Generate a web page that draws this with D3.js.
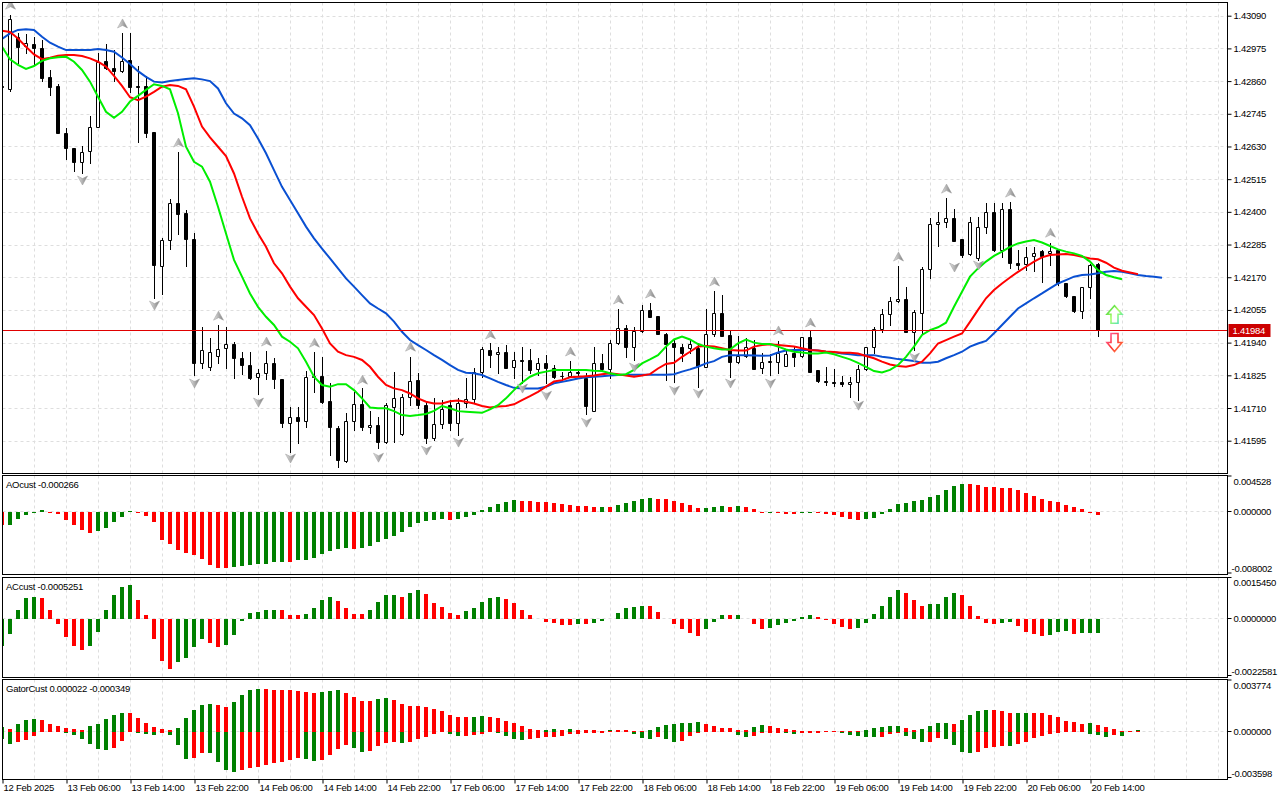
<!DOCTYPE html>
<html>
<head>
<meta charset="utf-8">
<script src="https://cdn.jsdelivr.net/npm/d3@7"></script>
<style>
body { margin: 0; background: #fff; }
svg { display: block; font-family: "Liberation Sans", Arial, sans-serif; font-size: 9.5px; letter-spacing: -0.25px; }
</style>
</head>
<body>
<svg id="chart" width="1280" height="800"></svg>
<script>
// hourly bars, index -1 is the half hidden one at the left edge
var firstBar = -1

var opens = [1.42842,1.42831,1.43014,1.42983,1.42989,1.42975,1.42873,1.42842,1.42676,1.42623,
  1.42577,1.42614,1.42697,1.42930,1.42905,1.42894,1.42933,1.42842,1.42842,1.42680,
  1.42210,1.42301,1.42432,1.42395,1.42303,1.41870,1.41853,1.41893,1.41920,1.41934,
  1.41885,1.41861,1.41818,1.41832,1.41867,1.41812,1.41659,1.41679,1.41665,1.41818,
  1.41822,1.41734,1.41638,1.41524,1.41664,1.41723,1.41642,1.41650,1.41591,1.41714,
  1.41617,1.41747,1.41808,1.41720,1.41605,1.41653,1.41720,1.41659,1.41728,1.41740,
  1.41835,1.41914,1.41900,1.41908,1.41853,1.41879,1.41879,1.41846,1.41867,1.41849,
  1.41823,1.41822,1.41835,1.41816,1.41700,1.41870,1.41846,1.41937,1.41990,1.41923,
  1.41982,1.42054,1.42033,1.41972,1.41937,1.41925,1.41920,1.41922,1.41855,1.41972,
  1.42043,1.41967,1.41873,1.41893,1.41922,1.41849,1.41873,1.41873,1.41858,1.41904,
  1.41893,1.41960,1.41843,1.41806,1.41801,1.41801,1.41793,1.41800,1.41846,1.41923,
  1.41987,1.42039,1.42087,1.42092,1.41978,1.42045,1.42198,1.42356,1.42363,1.42377,
  1.42303,1.42250,1.42236,1.42345,1.42398,1.42266,1.42409,1.42219,1.42215,1.42244,
  1.42262,1.42254,1.42266,1.42148,1.42104,1.42052,1.42134,1.42215]
var highs = [1.42845,1.43092,1.43028,1.43024,1.43014,1.43004,1.42899,1.42849,1.42696,1.42623,
  1.42632,1.42738,1.42958,1.42990,1.42969,1.43030,1.43030,1.42913,1.42878,1.42680,
  1.42307,1.42444,1.42611,1.42406,1.42324,1.41994,1.41955,1.42002,1.41994,1.41943,
  1.41908,1.41908,1.41847,1.41910,1.41885,1.41812,1.41712,1.41712,1.41841,1.41908,
  1.41890,1.41797,1.41646,1.41691,1.41767,1.41779,1.41700,1.41679,1.41726,1.41837,
  1.41761,1.41890,1.41832,1.41732,1.41744,1.41738,1.41738,1.41744,1.41814,1.41849,
  1.41925,1.41937,1.41925,1.41931,1.41908,1.41925,1.41916,1.41885,1.41896,1.41861,
  1.41837,1.41875,1.41847,1.41832,1.41925,1.41900,1.41949,1.42060,1.42002,1.41996,
  1.42072,1.42078,1.42034,1.41975,1.41949,1.41935,1.41949,1.41937,1.42058,1.42122,
  1.42107,1.41984,1.41963,1.41955,1.41949,1.41902,1.41900,1.41946,1.41911,1.41925,
  1.41960,1.41980,1.41843,1.41854,1.41847,1.41822,1.41820,1.41861,1.41925,1.41996,
  1.42057,1.42101,1.42209,1.42136,1.42054,1.42205,1.42379,1.42398,1.42447,1.42409,
  1.42303,1.42383,1.42383,1.42430,1.42430,1.42430,1.42435,1.42266,1.42275,1.42275,
  1.42266,1.42291,1.42268,1.42150,1.42104,1.42136,1.42216,1.42219]
var lows = [1.42835,1.42826,1.42922,1.42958,1.42915,1.42861,1.42812,1.42676,1.42587,1.42544,
  1.42537,1.42573,1.42697,1.42901,1.42860,1.42892,1.42820,1.42647,1.42664,1.42098,
  1.42111,1.42268,1.42321,1.42210,1.41826,1.41851,1.41843,1.41867,1.41851,1.41814,
  1.41829,1.41812,1.41761,1.41812,1.41781,1.41644,1.41556,1.41586,1.41644,1.41767,
  1.41726,1.41544,1.41503,1.41521,1.41632,1.41632,1.41623,1.41568,1.41586,1.41591,
  1.41615,1.41720,1.41709,1.41586,1.41597,1.41638,1.41632,1.41615,1.41714,1.41732,
  1.41820,1.41855,1.41832,1.41849,1.41814,1.41797,1.41832,1.41826,1.41797,1.41814,
  1.41808,1.41820,1.41826,1.41688,1.41700,1.41843,1.41814,1.41934,1.41888,1.41879,
  1.41978,1.42029,1.41970,1.41808,1.41802,1.41876,1.41902,1.41785,1.41855,1.41963,
  1.41963,1.41820,1.41870,1.41890,1.41846,1.41834,1.41826,1.41832,1.41858,1.41858,
  1.41890,1.41837,1.41802,1.41791,1.41787,1.41787,1.41749,1.41738,1.41843,1.41902,
  1.41978,1.42002,1.42084,1.41978,1.41914,1.41972,1.42166,1.42280,1.42345,1.42298,
  1.42240,1.42248,1.42230,1.42326,1.42262,1.42242,1.42201,1.42198,1.42195,1.42193,
  1.42154,1.42213,1.42142,1.42099,1.42048,1.42025,1.42098,1.41963]
var closes = [1.42839,1.43078,1.42979,1.42993,1.42975,1.42872,1.42840,1.42676,1.42623,1.42577,
  1.42611,1.42697,1.42928,1.42905,1.42894,1.42930,1.42838,1.42838,1.42678,1.42213,
  1.42301,1.42430,1.42391,1.42303,1.41870,1.41914,1.41907,1.41917,1.41934,1.41885,
  1.41861,1.41816,1.41832,1.41867,1.41811,1.41656,1.41679,1.41665,1.41820,1.41822,
  1.41732,1.41642,1.41527,1.41664,1.41723,1.41642,1.41650,1.41589,1.41720,1.41746,
  1.41747,1.41805,1.41720,1.41603,1.41653,1.41705,1.41658,1.41728,1.41740,1.41835,
  1.41916,1.41896,1.41908,1.41851,1.41879,1.41877,1.41843,1.41867,1.41849,1.41820,
  1.41821,1.41835,1.41832,1.41718,1.41870,1.41846,1.41937,1.41990,1.41923,1.41982,
  1.42054,1.42031,1.41972,1.41934,1.41923,1.41904,1.41935,1.41857,1.41972,1.42043,
  1.41964,1.41873,1.41893,1.41923,1.41847,1.41873,1.41875,1.41902,1.41900,1.41890,
  1.41960,1.41837,1.41806,1.41801,1.41797,1.41793,1.41800,1.41846,1.41923,1.41987,
  1.42039,1.42087,1.42093,1.41978,1.42048,1.42198,1.42356,1.42363,1.42377,1.42298,
  1.42248,1.42363,1.42345,1.42398,1.42266,1.42409,1.42221,1.42214,1.42242,1.42257,
  1.42245,1.42263,1.42148,1.42105,1.42052,1.42134,1.42213,1.41984]

// alligator lines as drawn (already shifted forward), also from bar -1
var jaw = [1.43008,1.43028,1.43040,1.43042,1.43040,1.43016,1.42995,1.42981,1.42969,1.42969,
  1.42969,1.42969,1.42973,1.42969,1.42963,1.42943,1.42920,1.42895,1.42875,1.42858,
  1.42855,1.42860,1.42864,1.42867,1.42870,1.42866,1.42860,1.42834,1.42782,1.42746,
  1.42729,1.42705,1.42658,1.42606,1.42547,1.42488,1.42442,1.42395,1.42348,1.42307,
  1.42271,1.42236,1.42201,1.42166,1.42137,1.42107,1.42078,1.42060,1.42043,1.42014,
  1.41978,1.41949,1.41931,1.41914,1.41896,1.41879,1.41861,1.41844,1.41834,1.41832,
  1.41826,1.41814,1.41802,1.41791,1.41781,1.41779,1.41779,1.41779,1.41785,1.41797,
  1.41802,1.41808,1.41814,1.41818,1.41820,1.41822,1.41824,1.41826,1.41827,1.41827,
  1.41827,1.41827,1.41827,1.41827,1.41829,1.41838,1.41846,1.41855,1.41867,1.41875,
  1.41890,1.41896,1.41896,1.41896,1.41895,1.41894,1.41895,1.41905,1.41912,1.41914,
  1.41914,1.41914,1.41912,1.41908,1.41906,1.41902,1.41899,1.41896,1.41896,1.41896,
  1.41890,1.41887,1.41882,1.41879,1.41875,1.41869,1.41869,1.41873,1.41885,1.41896,
  1.41908,1.41926,1.41937,1.41946,1.41973,1.42002,1.42031,1.42060,1.42078,1.42096,
  1.42113,1.42131,1.42148,1.42160,1.42172,1.42178,1.42180,1.42184,1.42189,1.42192,
  1.42189,1.42184,1.42178,1.42174,1.42172,1.42168]
var teeth = [1.43037,1.43033,1.43010,1.42981,1.42954,1.42937,1.42942,1.42949,1.42952,1.42952,
  1.42948,1.42940,1.42928,1.42911,1.42878,1.42843,1.42803,1.42793,1.42805,1.42822,
  1.42840,1.42846,1.42843,1.42831,1.42770,1.42700,1.42662,1.42629,1.42596,1.42535,
  1.42453,1.42377,1.42324,1.42277,1.42219,1.42184,1.42137,1.42096,1.42066,1.42037,
  1.41990,1.41937,1.41908,1.41896,1.41890,1.41879,1.41855,1.41820,1.41791,1.41779,
  1.41773,1.41761,1.41744,1.41732,1.41726,1.41726,1.41734,1.41736,1.41732,1.41726,
  1.41717,1.41712,1.41715,1.41717,1.41723,1.41738,1.41752,1.41767,1.41785,1.41803,
  1.41808,1.41818,1.41820,1.41822,1.41824,1.41829,1.41832,1.41829,1.41824,1.41820,
  1.41824,1.41829,1.41849,1.41865,1.41869,1.41890,1.41908,1.41926,1.41928,1.41926,
  1.41920,1.41914,1.41912,1.41912,1.41926,1.41932,1.41934,1.41932,1.41929,1.41926,
  1.41920,1.41914,1.41912,1.41909,1.41907,1.41904,1.41904,1.41902,1.41893,1.41885,
  1.41873,1.41863,1.41858,1.41855,1.41861,1.41873,1.41902,1.41937,1.41949,1.41961,
  1.41972,1.42013,1.42055,1.42096,1.42125,1.42148,1.42169,1.42189,1.42207,1.42225,
  1.42240,1.42248,1.42250,1.42252,1.42248,1.42242,1.42236,1.42233,1.42221,1.42204,
  1.42193,1.42187,1.42181]
var lips = [1.42981,1.42937,1.42917,1.42903,1.42913,1.42931,1.42940,1.42944,1.42946,1.42928,
  1.42899,1.42858,1.42805,1.42752,1.42731,1.42752,1.42788,1.42808,1.42829,1.42849,
  1.42843,1.42831,1.42747,1.42629,1.42576,1.42559,1.42506,1.42418,1.42324,1.42231,
  1.42172,1.42113,1.42066,1.42031,1.42002,1.41961,1.41943,1.41920,1.41873,1.41820,
  1.41791,1.41785,1.41794,1.41794,1.41773,1.41744,1.41712,1.41709,1.41709,1.41699,
  1.41685,1.41682,1.41685,1.41689,1.41700,1.41717,1.41709,1.41699,1.41697,1.41695,
  1.41693,1.41705,1.41720,1.41744,1.41773,1.41799,1.41820,1.41832,1.41838,1.41844,
  1.41844,1.41844,1.41844,1.41844,1.41841,1.41840,1.41832,1.41826,1.41829,1.41844,
  1.41867,1.41881,1.41896,1.41926,1.41951,1.41961,1.41951,1.41935,1.41926,1.41920,
  1.41916,1.41916,1.41937,1.41951,1.41940,1.41935,1.41935,1.41926,1.41916,1.41908,
  1.41905,1.41902,1.41902,1.41905,1.41899,1.41890,1.41881,1.41869,1.41855,1.41840,
  1.41835,1.41844,1.41861,1.41890,1.41926,1.41967,1.41984,1.41994,1.42010,1.42066,
  1.42119,1.42172,1.42201,1.42225,1.42245,1.42260,1.42277,1.42289,1.42296,1.42301,
  1.42292,1.42280,1.42268,1.42260,1.42254,1.42245,1.42225,1.42195,1.42178,1.42170,
  1.42163]

// fractals: [bar, price where the arrow sits]
var fractalUp = [[0,1.43127],[14,1.43061],[21,1.42642],[26,1.42033],[32,1.41942],[38,1.41938],
  [44,1.41808],[50,1.41924],[60,1.41967],[70,1.41907],[76,1.42090],[80,1.42111],[88,1.42153],
  [96,1.41981],[100,1.42009],[111,1.42241],[117,1.42480],[125,1.42466],[130,1.42325]]
var fractalDown = [[9,1.42512],[18,1.42072],[23,1.41798],[31,1.41731],[35,1.41534],[46,1.41537],
  [52,1.41562],[56,1.41590],[64,1.41780],[67,1.41755],[72,1.41660],[78,1.41854],[83,1.41773],
  [86,1.41762],[90,1.41798],[95,1.41798],[106,1.41720],[113,1.41889],[118,1.42206],[121,1.42213]]
// signal arrows at the right: [bar, base price]
var signalBuy = [138, 1.42008]
var signalSell = [138, 1.41972]
var lastPrice = 1.41984

var aoValues = [-0.001577,-0.001535,-0.000853,-0.000341,-0.000085,0.000171,-0.000085,-0.000213,-0.000895,-0.001535,
  -0.002174,-0.002558,-0.002387,-0.001918,-0.001236,-0.000512,0.000085,-0.000043,-0.000384,-0.001236,
  -0.003453,-0.004007,-0.004732,-0.005073,-0.005414,-0.005840,-0.006650,-0.006991,-0.007034,-0.006863,
  -0.006693,-0.006650,-0.006522,-0.006437,-0.006267,-0.006224,-0.006267,-0.006011,-0.005926,-0.005712,
  -0.005201,-0.004860,-0.004561,-0.004519,-0.004561,-0.004519,-0.004220,-0.003666,-0.003283,-0.002941,
  -0.002515,-0.001876,-0.001364,-0.001108,-0.000938,-0.000853,-0.000895,-0.000853,-0.000597,-0.000341,
  0.000171,0.000512,0.000895,0.001151,0.001407,0.001364,0.001279,0.001236,0.001151,0.001023,
  0.000895,0.000767,0.000725,0.000639,0.000512,0.000554,0.000512,0.000767,0.001023,0.001279,
  0.001535,0.001663,0.001620,0.001535,0.001279,0.001023,0.000767,0.000384,0.000426,0.000512,
  0.000639,0.000512,0.000639,0.000512,0.000256,-0.000085,-0.000043,-0.000085,-0.000171,-0.000213,
  -0.000043,-0.000021,-0.000043,-0.000171,-0.000298,-0.000597,-0.000810,-0.000938,-0.000853,-0.000725,
  -0.000171,0.000256,0.000895,0.001108,0.001279,0.001449,0.001790,0.002089,0.002728,0.003155,
  0.003453,0.003410,0.003325,0.003112,0.003069,0.002984,0.002941,0.002728,0.002302,0.001918,
  0.001577,0.001322,0.001151,0.000767,0.000512,0.000256,-0.000020,-0.000266]
var acValues = [-0.001024,-0.000563,0.000282,0.000768,0.000794,0.000768,0.000307,-0.000179,-0.000678,-0.001024,
  -0.001178,-0.001024,-0.000486,0.000282,0.000845,0.001178,0.001229,0.000691,0.000115,-0.000768,
  -0.001600,-0.001907,-0.001638,-0.001485,-0.001062,-0.000755,-0.000909,-0.001062,-0.000986,-0.000627,
  -0.000077,0.000192,0.000205,0.000282,0.000307,0.000282,0.000115,0.000102,0.000154,0.000384,
  0.000691,0.000794,0.000653,0.000384,0.000154,0.000128,0.000307,0.000614,0.000845,0.000858,
  0.000806,0.000922,0.001037,0.000883,0.000576,0.000422,0.000192,0.000115,0.000269,0.000384,
  0.000614,0.000768,0.000806,0.000730,0.000576,0.000307,0.000115,-0.000013,-0.000102,-0.000141,
  -0.000218,-0.000230,-0.000179,-0.000192,-0.000141,-0.000064,-0.000006,0.000192,0.000384,0.000422,
  0.000461,0.000448,0.000230,-0.000013,-0.000179,-0.000371,-0.000525,-0.000640,-0.000371,-0.000102,
  0.000115,0.000102,0.000115,-0.000013,-0.000179,-0.000371,-0.000333,-0.000218,-0.000141,-0.000064,
  0.000026,0.000102,0.000026,-0.000051,-0.000179,-0.000294,-0.000371,-0.000333,-0.000141,0.000154,
  0.000461,0.000806,0.001037,0.000922,0.000691,0.000461,0.000512,0.000538,0.000806,0.000922,
  0.000845,0.000461,0.000077,-0.000141,-0.000179,-0.000141,-0.000128,-0.000256,-0.000486,-0.000563,
  -0.000640,-0.000602,-0.000486,-0.000474,-0.000563,-0.000550,-0.000538,-0.000525]
// gator histogram heights in millionths, upper part and lower part (drawn below zero)
var gatorUpper = [296,148,468,813,887,813,518,370,222,148,
  20,370,518,887,1183,1331,1306,961,592,296,
  148,74,222,961,1553,1923,1947,1873,1775,2145,
  2662,3032,3106,3081,3032,3007,2983,2958,2884,2810,
  2835,2958,3032,2810,2514,2219,2194,2366,2440,2292,
  1997,1849,1824,1775,1627,1479,1183,1035,1011,1035,
  1109,1035,961,740,592,370,148,25,74,99,
  74,99,74,49,25,0,74,25,25,0,
  0,74,296,394,468,542,592,666,518,370,
  222,197,74,74,296,444,370,222,148,74,
  0,0,0,0,0,0,0,0,74,222,
  296,320,370,222,74,148,370,592,600,518,
  813,1183,1479,1553,1540,1479,1331,1335,1340,1330,
  1320,1183,1035,740,666,518,592,444,296,148,
  0,0,25]
var gatorLower = [542,937,740,592,345,0,0,0,74,271,
  567,937,1257,1331,1183,666,25,123,197,247,
  74,222,1011,1997,1972,1553,1578,2219,2810,2958,
  2810,2662,2588,2440,2292,2268,2071,1923,1997,2145,
  2071,1701,1257,961,1183,1479,1454,1085,863,789,
  863,789,567,419,197,49,197,345,320,271,
  197,49,123,345,567,592,567,493,419,394,
  345,197,173,123,99,74,0,25,49,197,
  493,567,419,567,789,715,345,123,49,25,
  25,0,271,419,296,74,74,74,123,197,
  123,99,74,49,25,123,271,345,370,419,
  394,197,123,345,567,789,780,493,567,1011,
  1479,1602,1528,1233,1159,1085,1090,912,789,493,
  345,197,123,49,0,0,197,271,419,271,
  345,49,0]

var priceTicks = [1.43090,1.42975,1.42860,1.42745,1.42630,1.42515,1.42400,1.42285,1.42170,1.42055,1.41940,1.41825,1.41710,1.41595]
var aoTicks = [0.004528, 0, -0.008002]
var acTicks = [0.0015450, 0, -0.0022581]
var gatorTicks = [0.003774, 0, -0.003598]
var timeTicks = [[-1,"12 Feb 2025"],[7,"13 Feb 06:00"],[15,"13 Feb 14:00"],[23,"13 Feb 22:00"],
  [31,"14 Feb 06:00"],[39,"14 Feb 14:00"],[47,"14 Feb 22:00"],[55,"17 Feb 06:00"],
  [63,"17 Feb 14:00"],[71,"17 Feb 22:00"],[79,"18 Feb 06:00"],[87,"18 Feb 14:00"],
  [95,"18 Feb 22:00"],[103,"19 Feb 06:00"],[111,"19 Feb 14:00"],[119,"19 Feb 22:00"],
  [127,"20 Feb 06:00"],[135,"20 Feb 14:00"]]
var paneTitles = ["AOcust -0.000266", "ACcust -0.0005251", "GatorCust 0.000022 -0.000349"]

var GREEN = "#008000", RED = "#ff0000"
var left = 2.5, right = 1227.5
var panes = [
    {name: "main", top: 2.5, bottom: 473.5},
    {name: "ao", top: 475.5, bottom: 574.5},
    {name: "ac", top: 577.5, bottom: 677.5},
    {name: "gator", top: 679.5, bottom: 779.5}
]

var svg = d3.select("#chart")
var defs = svg.append("defs")

var x = d3.scaleLinear().domain([-1, 144]).range([2, 1162])
var yMain = d3.scaleLinear().domain([1.41595, 1.43090]).range([440.7, 15.7])
var yAO = d3.scaleLinear().domain([aoTicks[2], aoTicks[0]]).range([575, 475.5])
var yAC = d3.scaleLinear().domain([acTicks[2], acTicks[0]]).range([677.5, 577])
var yG = d3.scaleLinear().domain([gatorTicks[2] * 1e6, gatorTicks[0] * 1e6]).range([779.5, 679.5])

panes.forEach(p => {
    defs.append("clipPath").attr("id", "clip-" + p.name)
        .append("rect").attr("x", left).attr("y", p.top)
        .attr("width", right - left).attr("height", p.bottom - p.top)
})

var grad = defs.append("linearGradient").attr("id", "frac").attr("x1", 0).attr("x2", 1)
grad.append("stop").attr("offset", 0).attr("stop-color", "#e4e4e4")
grad.append("stop").attr("offset", 1).attr("stop-color", "#7e7e7e")
var gUp = defs.append("linearGradient").attr("id", "sigUp").attr("x1", 0).attr("x2", 1).attr("y1", 0).attr("y2", 1)
gUp.append("stop").attr("offset", 0).attr("stop-color", "#33cc33")
gUp.append("stop").attr("offset", 0.5).attr("stop-color", "#aaff66")
gUp.append("stop").attr("offset", 1).attr("stop-color", "#44ddcc")
var gDn = defs.append("linearGradient").attr("id", "sigDn").attr("x1", 0).attr("x2", 1).attr("y1", 0).attr("y2", 1)
gDn.append("stop").attr("offset", 0).attr("stop-color", "#ff66aa")
gDn.append("stop").attr("offset", 0.5).attr("stop-color", "#ff3333")
gDn.append("stop").attr("offset", 1).attr("stop-color", "#ff8844")

// grid
var vGrid = d3.range(3, 153, 4)
panes.forEach(p => {
    svg.append("g").selectAll("line").data(vGrid).join("line")
        .attr("x1", d => Math.round(x(d)) + 0.5).attr("x2", d => Math.round(x(d)) + 0.5)
        .attr("y1", p.top).attr("y2", p.bottom)
        .attr("stroke", "#dedede").attr("stroke-dasharray", "3,3")
})
svg.append("g").selectAll("line").data(priceTicks).join("line")
    .attr("x1", left).attr("x2", right)
    .attr("y1", d => Math.round(yMain(d)) + 0.5).attr("y2", d => Math.round(yMain(d)) + 0.5)
    .attr("stroke", "#dedede").attr("stroke-dasharray", "3,3")
;[yAO(0), yAC(0), yG(0)].forEach(y0 => {
    svg.append("line").attr("x1", left).attr("x2", right)
        .attr("y1", Math.round(y0) + 0.5).attr("y2", Math.round(y0) + 0.5)
        .attr("stroke", "#dedede").attr("stroke-dasharray", "3,3")
})

// ---- main pane
var gMain = svg.append("g").attr("clip-path", "url(#clip-main)")

var bars = opens.map((o, k) => ({i: firstBar + k, o: o, h: highs[k], l: lows[k], c: closes[k]}))
var px = v => Math.round(yMain(v)) + 0.5

gMain.append("g").selectAll("line").data(bars).join("line")
    .attr("x1", d => x(d.i) + 0.5).attr("x2", d => x(d.i) + 0.5)
    .attr("y1", d => px(d.h) - 0.5).attr("y2", d => px(d.l) + 0.5)
    .attr("stroke", "#000")
gMain.append("g").selectAll("path").data(bars).join("path")
    .attr("d", d => {
        var t = px(Math.max(d.o, d.c)), b = px(Math.min(d.o, d.c))
        var x0 = x(d.i) - 1.5, x1 = x(d.i) + 1.5
        return `M${x0},${t}H${x1}V${b}H${x0}Z`
    })
    .attr("fill", d => d.c >= d.o ? "#fff" : "#000")
    .attr("stroke", "#000")

var lineGen = d3.line().x(d => x(d.i)).y(d => yMain(d.v))
var series = [[jaw, "#0a50d2"], [teeth, "#ff0000"], [lips, "#00ee00"]]
series.forEach(s => {
    gMain.append("path")
        .datum(s[0].map((v, k) => ({i: firstBar + k, v: v})))
        .attr("d", lineGen)
        .attr("fill", "none").attr("stroke", s[1]).attr("stroke-width", 2)
})

// price line
gMain.append("line").attr("x1", left).attr("x2", right)
    .attr("y1", Math.round(yMain(lastPrice)) + 0.5).attr("y2", Math.round(yMain(lastPrice)) + 0.5)
    .attr("stroke", "#e00000")

// fractal arrows
gMain.append("g").selectAll("path").data(fractalUp).join("path")
    .attr("transform", d => `translate(${x(d[0]) + 0.5},${yMain(d[1])})`)
    .attr("d", "M0,-5L5,4L0,1.5L-5,4Z")
    .attr("fill", "url(#frac)").attr("stroke", "#9a9a9a").attr("stroke-width", 0.5)
gMain.append("g").selectAll("path").data(fractalDown).join("path")
    .attr("transform", d => `translate(${x(d[0]) + 0.5},${yMain(d[1])})`)
    .attr("d", "M0,5L5,-4L0,-1.5L-5,-4Z")
    .attr("fill", "url(#frac)").attr("stroke", "#9a9a9a").attr("stroke-width", 0.5)

// signal arrows
gMain.append("path")
    .attr("transform", `translate(${x(signalBuy[0]) + 0.5},${yMain(signalBuy[1])})`)
    .attr("d", "M-3.5,0V-9H-7.5L0,-17.5L7.5,-9H3.5V0Z")
    .attr("fill", "#fff").attr("stroke", "url(#sigUp)").attr("stroke-width", 1.6)
gMain.append("path")
    .attr("transform", `translate(${x(signalSell[0]) + 0.5},${yMain(signalSell[1])})`)
    .attr("d", "M-3.5,0V9H-7.5L0,18L7.5,9H3.5V0Z")
    .attr("fill", "#fff").attr("stroke", "url(#sigDn)").attr("stroke-width", 1.6)

// ---- histogram panes
function colorsOf(vals, first) {
    return vals.map((v, k) => k == 0 ? first : (v > vals[k - 1] ? GREEN : RED))
}
function histogram(pane, vals, y, cols) {
    var g = svg.append("g").attr("clip-path", "url(#clip-" + pane + ")")
    var y0 = Math.round(y(0))
    g.selectAll("rect").data(vals).join("rect")
        .attr("x", (d, k) => x(firstBar + k) - 2)
        .attr("width", 4)
        .attr("y", d => d >= 0 ? Math.round(y(d)) : y0 + 1)
        .attr("height", d => d >= 0 ? Math.max(0, y0 + 1 - Math.round(y(d))) : Math.max(0, Math.round(y(d)) - y0))
        .attr("fill", (d, k) => cols[k])
        .attr("shape-rendering", "crispEdges")
}
histogram("ao", aoValues, yAO, colorsOf(aoValues, RED))
histogram("ac", acValues, yAC, colorsOf(acValues, GREEN))
histogram("gator", gatorUpper, yG, colorsOf(gatorUpper, GREEN))
histogram("gator", gatorLower.map(v => -v), yG, colorsOf(gatorLower, GREEN))

// ---- frames
panes.forEach(p => {
    svg.append("rect").attr("x", left).attr("y", p.top)
        .attr("width", right - left).attr("height", p.bottom - p.top)
        .attr("fill", "none").attr("stroke", "#000")
})

// pane titles
;[panes[1], panes[2], panes[3]].forEach((p, k) => {
    svg.append("text").attr("x", 6).attr("y", p.top + 12.5).text(paneTitles[k]).attr("fill", "#000")
})

// ---- right axes
var ax = svg.append("g").attr("transform", `translate(${right},0)`)
    .call(d3.axisRight(yMain).tickValues(priceTicks).tickFormat(d => d.toFixed(5)).tickSize(4).tickPadding(2))
ax.select(".domain").remove()
ax.attr("font-family", null).attr("font-size", null)

var tag = svg.append("g").attr("transform", `translate(${right + 1},${Math.round(yMain(lastPrice)) + 0.5})`)
tag.append("rect").attr("x", 0).attr("y", -6.5).attr("width", 42).attr("height", 13).attr("fill", "#cc0000")
tag.append("text").attr("x", 4).attr("dy", "0.35em").attr("fill", "#fff").text(lastPrice.toFixed(5))

function paneAxis(y, ticks, digits, scale) {
    var g = svg.append("g").attr("transform", `translate(${right},0)`)
    ticks.forEach((t, k) => {
        var ty = k == 0 ? y(t * scale) + 0.5 : (k == 2 ? y(t * scale) - 2 : Math.round(y(0)) + 0.5)
        var textY = k == 0 ? ty + 5.5 : (k == 2 ? ty - 4 : ty)
        g.append("line").attr("x1", 0).attr("x2", 4).attr("y1", ty).attr("y2", ty).attr("stroke", "#000")
        g.append("text").attr("x", t < 0 ? 4 : 6).attr("y", textY).attr("dy", "0.35em").text(t.toFixed(digits))
    })
}
paneAxis(yAO, aoTicks, 6, 1)
paneAxis(yAC, acTicks, 7, 1)
paneAxis(yG, gatorTicks, 6, 1e6)

// ---- time axis
var tx = svg.append("g").attr("transform", `translate(0,${panes[3].bottom})`)
    .call(d3.axisBottom(x).tickValues(timeTicks.map(d => d[0]))
        .tickFormat((d, k) => timeTicks[k][1]).tickSize(4).tickPadding(1))
tx.select(".domain").remove()
tx.attr("font-family", null).attr("font-size", null)
tx.selectAll(".tick line").attr("transform", "translate(0.5,0)")
tx.selectAll("text").attr("text-anchor", "start").attr("x", 1)
</script>
</body>
</html>
